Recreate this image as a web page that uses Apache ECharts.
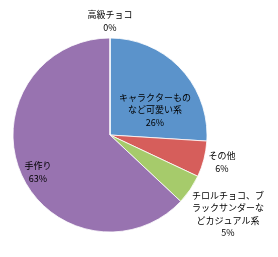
<!DOCTYPE html>
<html><head><meta charset="utf-8">
<script src="https://cdn.jsdelivr.net/npm/echarts@6/dist/echarts.min.js"></script>
<style>html,body{margin:0;padding:0;background:#fff}#c{width:278px;height:257px}</style>
</head><body><div id="c"></div>
<script>
var categories = ['キャラクターもの\nなど可愛い系', 'その他', 'チロルチョコ、ブ\nラックサンダーな\nどカジュアル系', '手作り', '高級チョコ'];
var values = [26, 6, 5, 63, 0];
var colors = ['#5B93CB', '#D65E5B', '#A6CB6B', '#9873B0', '#4BACC6'];
var labelPos = [[155, 110], [222, 162], [228, 214], [38, 172], [110, 21]];

var chart = echarts.init(document.getElementById('c'), null, {renderer: 'canvas'});
chart.setOption({
  animation: false,
  backgroundColor: '#fff',
  series: [{
    type: 'pie',
    center: [110, 135],
    radius: [0, 97],
    startAngle: 90,
    clockwise: true,
    avoidLabelOverlap: false,
    minShowLabelAngle: 0,
    itemStyle: {borderColor: '#fff', borderWidth: 0.8},
    label: {
      show: true,
      position: 'inside',
      color: '#000',
      fontFamily: 'Noto Sans CJK JP',
      fontSize: 9,
      lineHeight: 12.5,
      align: 'center',
      formatter: function (p) { return p.name + '\n' + Math.round(p.percent) + '%'; }
    },
    labelLine: {show: false},
    labelLayout: function (p) {
      var pos = labelPos[p.dataIndex];
      return {x: pos[0], y: pos[1], align: 'center', verticalAlign: 'middle'};
    },
    data: categories.map(function (c, i) {
      return {name: c, value: values[i], itemStyle: {color: colors[i]}};
    })
  }]
});
</script></body></html>
